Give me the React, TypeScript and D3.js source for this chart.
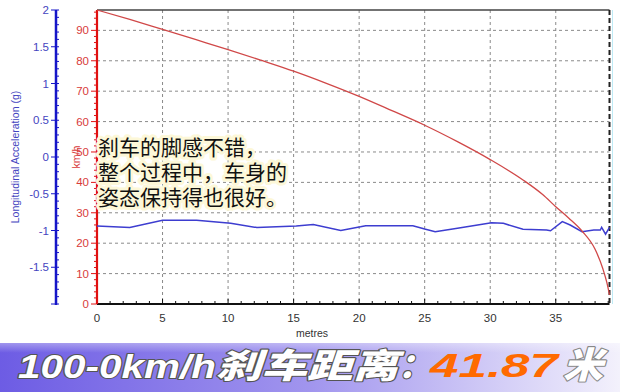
import React from "react";
import * as d3 from "d3";

const distanceTicks = [0, 5, 10, 15, 20, 25, 30, 35];
const speedTicks = [0, 10, 20, 30, 40, 50, 60, 70, 80, 90];
const accelTicks = [-1.5, -1, -0.5, 0, 0.5, 1, 1.5, 2];

const speedDist = [0, 2.5, 5, 7.5, 10, 12.5, 15, 17.5, 20, 22.5, 25, 27.5, 30, 32.5, 34, 35, 36, 37, 38, 38.6, 38.9, 39.1];
const speedVal = [96.7, 93.6, 90.3, 87, 83.7, 80.2, 76.6, 72.6, 68.3, 63.6, 58.8, 53.4, 47.5, 40.8, 36, 32, 28.2, 24, 18, 11.5, 7, 3];

const accelDist = [0, 2.5, 5, 7.6, 10.2, 12.2, 15.2, 16.5, 18.6, 20.1, 20.5, 24.1, 25, 25.8, 27.5, 30.1, 31, 32.5, 34.3, 34.6, 35.5, 36.1, 37, 37.9, 38.4, 38.5, 38.8, 39.1];
const accelVal = [-0.94, -0.96, -0.86, -0.86, -0.9, -0.96, -0.94, -0.92, -1.0, -0.95, -0.935, -0.935, -0.98, -1.016, -0.97, -0.894, -0.902, -0.984, -0.993, -1.003, -0.88, -0.925, -1.016, -0.993, -0.993, -0.956, -1.05, -0.956];

const noteLines = ["刹车的脚感不错，", "整个过程中，车身的", "姿态保持得也很好。"];
const xTitle = "metres";
const yLeftTitle = "Longitudinal Acceleration (g)";
const yRightTitle = "km/h";
const bannerA = "100-0km/h";
const bannerB = "刹车距离";
const bannerC = "：";
const bannerD = "41.87";
const bannerE = "米";

export default function App() {
  const L = 97, R = 609.5, T = 10, B = 304;
  const x = d3.scaleLinear().domain([0, 39.1]).range([L, R]);
  const yK = d3.scaleLinear().domain([0, 96.7]).range([B, T]);
  const yG = d3.scaleLinear().domain([-2, 2]).range([B, T]);

  const speedLine = d3.line<number>().x((_, i) => x(speedDist[i])).y((d) => yK(d)).curve(d3.curveMonotoneX)(speedVal) || "";
  const accelLine = d3.line<number>().x((_, i) => x(accelDist[i])).y((d) => yG(d))(accelVal) || "";

  const minorX = d3.range(0, 40, 1);
  const minorK = d3.range(0, 97, 2);
  const minorG = d3.range(-2, 2.01, 0.1);

  const sans = "Arial, 'Liberation Sans', sans-serif";
  const cjk = "'Noto Sans CJK SC', sans-serif";

  return (
    <svg width={620} height={392} style={{ position: "fixed", left: 0, top: 0, background: "#fff" }}>
      <defs>
        <linearGradient id="bg" x1="0" x2="1" y1="0" y2="0">
          <stop offset="0%" stopColor="#6d5ce4" />
          <stop offset="50%" stopColor="#a195ee" />
          <stop offset="100%" stopColor="#f3f1fc" />
        </linearGradient>
        <linearGradient id="bgv" x1="0" x2="0" y1="0" y2="1">
          <stop offset="0%" stopColor="#ffffff" stopOpacity={0.35} />
          <stop offset="20%" stopColor="#ffffff" stopOpacity={0} />
          <stop offset="100%" stopColor="#ffffff" stopOpacity={0} />
        </linearGradient>
      </defs>
      <rect x={0} y={0} width={620} height={392} fill="#fff" />

      {/* grid */}
      {speedTicks.filter((t) => t > 0).map((t) => (
        <line key={"gh" + t} x1={L} x2={R} y1={yK(t)} y2={yK(t)} stroke="#8a8a8a" strokeWidth={1} strokeDasharray="3,3" />
      ))}
      {distanceTicks.filter((t) => t > 0).map((t) => (
        <line key={"gv" + t} x1={x(t)} x2={x(t)} y1={T} y2={B} stroke="#8a8a8a" strokeWidth={1} strokeDasharray="3,3" />
      ))}
      <line x1={L} x2={R} y1={T} y2={T} stroke="#444" strokeWidth={1.5} />
      <line x1={R} x2={R} y1={T} y2={B} stroke="#222" strokeWidth={2} strokeDasharray="5,3" />
      <line x1={R + 3} x2={R + 3} y1={T} y2={B} stroke="#bfeaf5" strokeWidth={1} />

      {/* x axis */}
      <line x1={L} x2={R} y1={B} y2={B} stroke="#111" strokeWidth={2.2} />
      {minorX.map((t) => (
        <line key={"mx" + t} x1={x(t)} x2={x(t)} y1={B} y2={B - (t % 5 === 0 ? 5 : 3)} stroke="#111" strokeWidth={1} />
      ))}
      {distanceTicks.map((t) => (
        <text key={"xl" + t} x={x(t)} y={322} textAnchor="middle" fontFamily={sans} fontSize={11.5} fill="#333">{t}</text>
      ))}
      <text x={312} y={337} textAnchor="middle" fontFamily={sans} fontSize={10.5} fill="#333">{xTitle}</text>

      {/* speed axis */}
      <line x1={L} x2={L} y1={T} y2={B} stroke="#e01010" strokeWidth={2.2} />
      {minorK.map((t) => (
        <line key={"mk" + t} x1={L} x2={L - (t % 10 === 0 ? 6 : 3)} y1={yK(t)} y2={yK(t)} stroke="#e01010" strokeWidth={1} />
      ))}
      {speedTicks.map((t) => (
        <text key={"kl" + t} x={89} y={yK(t) + 4} textAnchor="end" fontFamily={sans} fontSize={11.5} fill="#d83a3a">{t}</text>
      ))}
      <text transform={`translate(80,157) rotate(-90)`} textAnchor="middle" fontFamily={sans} fontSize={10.5} fill="#d83a3a">{yRightTitle}</text>

      {/* accel axis */}
      <line x1={56} x2={56} y1={T} y2={B + 1} stroke="#1515c8" strokeWidth={2.5} />
      {minorG.map((t, i) => (
        <line key={"mg" + i} x1={i % 5 === 0 ? 51 : 56} x2={56 + 3} y1={yG(t)} y2={yG(t)} stroke="#1515c8" strokeWidth={1} />
      ))}
      {accelTicks.map((t) => (
        <text key={"gl" + t} x={49} y={yG(t) + 4} textAnchor="end" fontFamily={sans} fontSize={11.5} fill="#4444c0">{t}</text>
      ))}
      <text transform={`translate(19,157) rotate(-90)`} textAnchor="middle" fontFamily={sans} fontSize={10.5} fill="#4444c0">{yLeftTitle}</text>

      {/* series */}
      <path d={accelLine} fill="none" stroke="#3d3dd0" strokeWidth={1.5} />
      <path d={speedLine} fill="none" stroke="#d04848" strokeWidth={1.3} />

      {/* note */}
      <text x={98} y={155} fontFamily={cjk} fontSize={21} fill="#111"
        stroke="#fdf8d8" strokeWidth={6} strokeLinejoin="round" style={{ paintOrder: "stroke" }}>
        {noteLines.map((s, i) => (
          <tspan key={"n" + i} x={98} y={155 + i * 25}>{s}</tspan>
        ))}
      </text>

      {/* banner */}
      <rect x={0} y={343} width={620} height={49} fill="url(#bg)" />
      <rect x={0} y={343} width={620} height={49} fill="url(#bgv)" />
      <g fontWeight={900} fontStyle="italic" stroke="#555" strokeWidth={2.2} strokeLinejoin="round" style={{ paintOrder: "stroke" }}>
        <text x={18} y={378} fontFamily={sans} fontSize={33} fill="#fff" textLength={198} lengthAdjust="spacingAndGlyphs">{bannerA}</text>
        <text x={216} y={378} fontFamily={cjk} fontSize={34} fill="#fff" textLength={182} lengthAdjust="spacingAndGlyphs">{bannerB}</text>
        <text x={398} y={378} fontFamily={cjk} fontSize={34} fill="#fff">{bannerC}</text>
        <text x={430} y={377} fontFamily={sans} fontSize={33} fill="#ff6a00" stroke="none" textLength={128} lengthAdjust="spacingAndGlyphs">{bannerD}</text>
        <text x={563} y={378} fontFamily={cjk} fontSize={36} fill="#fff" stroke="#888" textLength={40} lengthAdjust="spacingAndGlyphs">{bannerE}</text>
      </g>
    </svg>
  );
}
